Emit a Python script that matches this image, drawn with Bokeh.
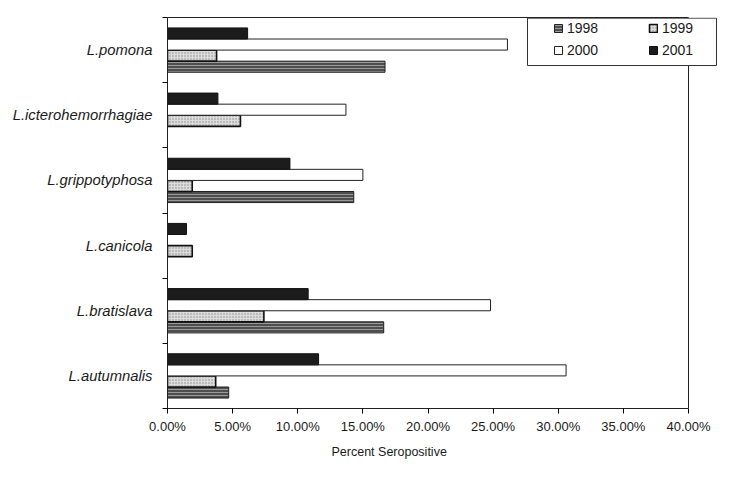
from bokeh.plotting import figure
from bokeh.models import (ColumnDataSource, FixedTicker, NumeralTickFormatter, Legend,
                          LegendItem, Range1d, BoxAnnotation, Span, LinearAxis, Title)
from bokeh.transform import dodge
from bokeh.embed import file_html
from bokeh.resources import INLINE

serovars = ["L.autumnalis", "L.bratislava", "L.canicola",
            "L.grippotyphosa", "L.icterohemorrhagiae", "L.pomona"]
years = ["1998", "1999", "2000", "2001"]
v1998 = [0.047, 0.166, 0.0, 0.143, 0.0, 0.167]
v1999 = [0.037, 0.074, 0.019, 0.019, 0.056, 0.0377]
v2000 = [0.306, 0.248, 0.0, 0.150, 0.137, 0.261]
v2001 = [0.116, 0.108, 0.0146, 0.094, 0.0387, 0.0615]
x_ticks = [0.0, 0.05, 0.10, 0.15, 0.20, 0.25, 0.30, 0.35, 0.40]
x_title = "Percent Seropositive"

centers = [i + 0.5 for i in range(len(serovars))]
bounds = [float(i) for i in range(len(serovars) + 1)]

src = ColumnDataSource(dict(pos=centers, name=serovars,
                            y1998=v1998, y1999=v1999, y2000=v2000, y2001=v2001))

FONT = "Liberation Sans"
XMAX = x_ticks[-1]
PX_PER_UNIT = 521 / XMAX          # axis scale: 0..40% over 521 px
XVIEW = 555 / PX_PER_UNIT        # frame extended to the right so the legend box fits

p = figure(frame_width=555, frame_height=391,
           min_border_left=167, min_border_right=8, min_border_top=17, min_border_bottom=30,
           x_range=Range1d(0, XVIEW), y_range=Range1d(0, 6),
           output_backend="svg", toolbar_location=None)

bh = 0.17
r98 = p.hbar(y=dodge("pos", -0.255, range=p.y_range), height=bh, left=0, right="y1998", source=src,
             fill_color="#4e4e4e", hatch_pattern="horizontal_line", hatch_color="#9a9a9a",
             hatch_scale=3, hatch_weight=1, line_color="#222222", line_width=1)
r99 = p.hbar(y=dodge("pos", -0.085, range=p.y_range), height=bh, left=0, right="y1999", source=src,
             fill_color="#dcdcdc", hatch_pattern="dot", hatch_color="#8a8a8a",
             hatch_scale=3, hatch_weight=1, line_color="#111111", line_width=1.6)
r00 = p.hbar(y=dodge("pos", 0.085, range=p.y_range), height=bh, left=0, right="y2000", source=src,
             fill_color="white", line_color="#222222", line_width=1)
r01 = p.hbar(y=dodge("pos", 0.255, range=p.y_range), height=bh, left=0, right="y2001", source=src,
             fill_color="#1c1c1c", line_color="#111111", line_width=1)

p.xgrid.visible = False
p.ygrid.visible = False
p.outline_line_color = None

xa = p.xaxis[0]
xa.bounds = (0, XMAX)
xa.ticker = FixedTicker(ticks=x_ticks)
xa.formatter = NumeralTickFormatter(format="0.00%")
xa.major_tick_out = 5
xa.major_tick_in = 0
xa.minor_tick_out = 0
xa.axis_line_color = "#222222"
xa.major_label_text_font = FONT
xa.major_label_text_font_size = "13px"
xa.major_label_text_color = "#1a1a1a"
xa.major_label_standoff = 5

# axis title placed as in the original (left of the plot centre)
xt = Title(text=x_title, align="left", offset=164, standoff=12,
           text_font=FONT, text_font_size="12.5px", text_font_style="normal",
           text_color="#1a1a1a")
p.add_layout(xt, "below")

# top edge of the plot box
top_axis = LinearAxis(bounds=(0, XMAX), ticker=FixedTicker(ticks=[]),
                      major_tick_out=0, major_tick_in=0, minor_tick_out=0, minor_tick_in=0,
                      axis_line_color="#222222")
p.add_layout(top_axis, "above")

ya = p.yaxis[0]
ya.ticker = FixedTicker(ticks=centers, minor_ticks=bounds)
ya.major_label_overrides = {c: n for c, n in zip(centers, serovars)}
ya.major_tick_out = 0
ya.major_tick_in = 0
ya.minor_tick_out = 5
ya.minor_tick_in = 0
ya.axis_line_color = "#222222"
ya.major_label_text_font = FONT
ya.major_label_text_font_size = "14.8px"
ya.major_label_text_font_style = "italic"
ya.major_label_text_color = "#1a1a1a"
ya.major_label_standoff = 10

# right edge of the plot box at 40%
p.add_layout(Span(location=XMAX, dimension="height", line_color="#222222", line_width=1))

# legend frame (extends past the plot box like the original)
box = BoxAnnotation(left=0.2764, right=0.4215, bottom=5.263, top=5.99,
                    fill_color="white", fill_alpha=1.0,
                    line_color="#333333", line_width=1, line_alpha=1.0)
p.add_layout(box)

legend = Legend(items=[LegendItem(label=years[0], renderers=[r98]),
                       LegendItem(label=years[2], renderers=[r00]),
                       LegendItem(label=years[1], renderers=[r99]),
                       LegendItem(label=years[3], renderers=[r01])],
                location=(386, 350), orientation="vertical", ncols=2,
                glyph_width=10, glyph_height=10, label_standoff=4, label_width=75,
                spacing=6, padding=0, margin=0,
                label_text_font=FONT, label_text_font_size="14px", label_text_color="#1a1a1a",
                border_line_alpha=0, background_fill_alpha=0)
p.add_layout(legend, "center")

open("out.html", "w").write(file_html(p, INLINE))
